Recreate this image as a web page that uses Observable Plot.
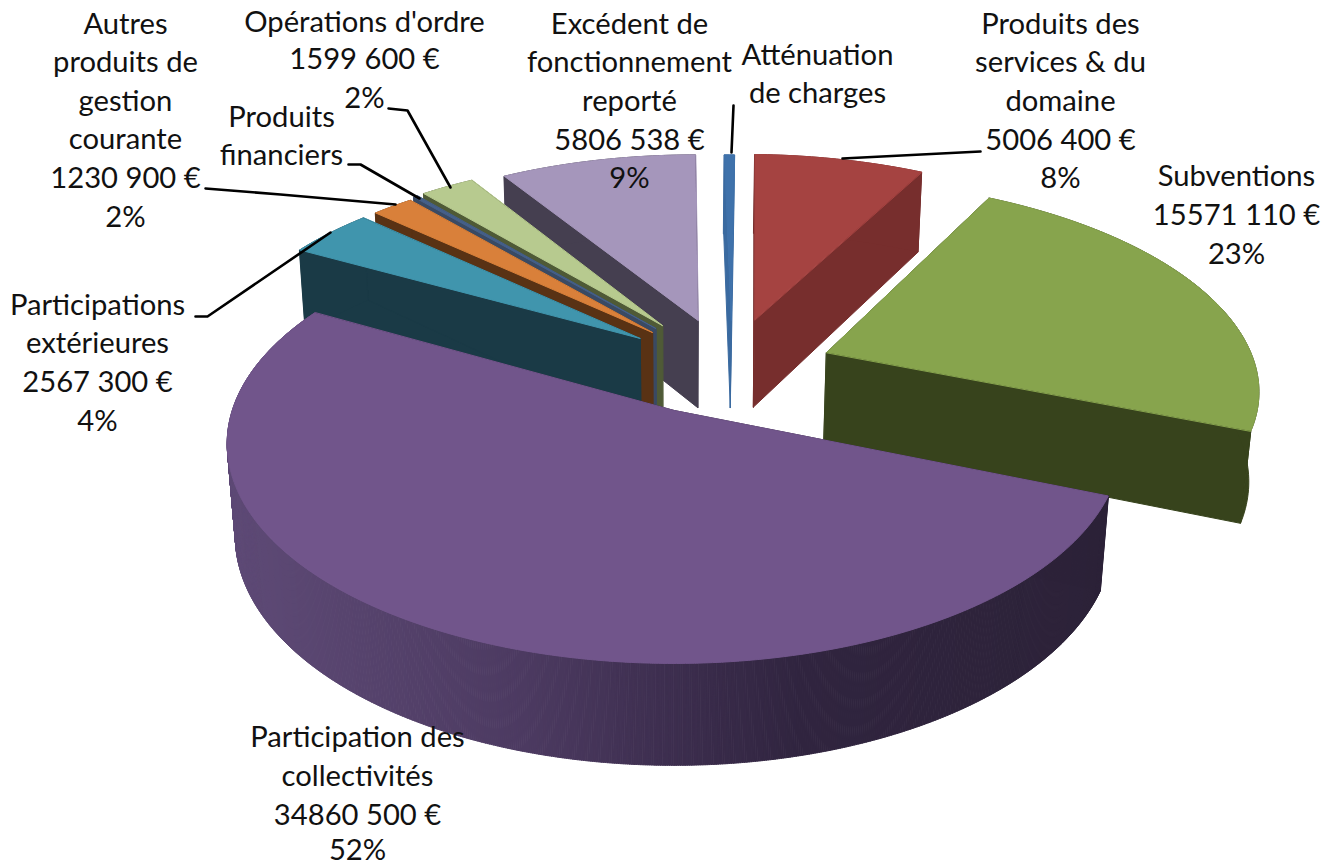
<!DOCTYPE html>
<html><head><meta charset="utf-8">
<script src="https://cdn.jsdelivr.net/npm/d3@7"></script>
<script src="https://cdn.jsdelivr.net/npm/@observablehq/plot@0.6"></script>
<style>html,body{margin:0;padding:0;background:#fff}svg{display:block}</style>
</head><body><div id="chart"></div>
<script>
// ---- data (clockwise from 12 o'clock) ----
const categories = ["Atténuation de charges","Produits des services & du domaine","Subventions","Participation des collectivités","Participations extérieures","Autres produits de gestion courante","Produits financiers","Opérations d'ordre","Excédent de fonctionnement reporté"];
const values = [290000,5006400,15571110,34860500,2567300,1230900,120000,1599600,5806538];

// ---- styling ----
const topColors  = ["#3f72ab","#a54341","#87a44d","#71558b","#4095ad","#d9803a","#45608a","#b7ca8f","#a596bb"];
const wallColors = ["#3a6aa0","#772e2d","#37431c","#2c2238","#1a3a46","#593214","#3a4a63","#4f5a36","#453f50"];
// slice displacement on the pie's ground plane, in pie radii (explosion)
const offsetX = [0.132,0.189,0.354,-0.005,-0.087,-0.058,-0.05,-0.034,0.052];
const offsetY = [-0.447,-0.45,-0.281,0,-0.353,-0.384,-0.405,-0.42,-0.447];
const drawOrder = [8,7,6,5,4,0,1,2,3];

// ---- labels ----
const labelBlocks = [
  {cx:125,  lines:["Autres","produits de","gestion","courante","1230 900 €","2%"], ys:[24,62,101,139,178,217]},
  {cx:364,  lines:["Opérations d'ordre","1599 600 €","2%"], ys:[22,59,98]},
  {cx:281,  lines:["Produits","financiers"], ys:[117,155]},
  {cx:629,  lines:["Excédent de","fonctionnement","reporté","5806 538 €","9%"], ys:[24,62,101,140,178]},
  {cx:817,  lines:["Atténuation","de charges"], ys:[55,93]},
  {cx:1060, lines:["Produits des","services & du","domaine","5006 400 €","8%"], ys:[24,62,101,140,178]},
  {cx:1236, lines:["Subventions","15571 110 €","23%"], ys:[176,215,254]},
  {cx:97,   lines:["Participations","extérieures","2567 300 €","4%"], ys:[305,343,382,421]},
  {cx:357,  lines:["Participation des","collectivités","34860 500 €","52%"], ys:[737,776,815,850]}
];
const leaders = [
  [[388,108],[407,110],[450,187]],
  [[348,164],[360,164],[419,198]],
  [[205,188],[280,194],[395,204]],
  [[195,316],[207,316],[330,232]],
  [[842,158],[980,151]],
  [[733,105],[731,152]]
];

// ---- perspective projection of the tilted pie ----
const cx=676, cy=410, R=442, A=215, K=0.15, D=93, M=0.018;
function project(X,Y,bottom){
  const w = 1 - K*Y + (bottom?M:0);
  return [cx + R*X/w, cy + (A*Y + (bottom?D:0))/w];
}
const total = d3.sum(values);
let cum = 0;
const slices = values.map((v,i)=>{
  const a0 = cum/total*2*Math.PI; cum += v;
  return {i, a0, a1: cum/total*2*Math.PI};
});
function arcPts(s, bottom, from, to){
  const f = from ?? s.a0, t = to ?? s.a1;
  const n = Math.max(2, Math.ceil((t-f)/(Math.PI/180)));
  return d3.range(n+1).map(k=>{
    const a = f+(t-f)*k/n;
    return project(offsetX[s.i]+Math.sin(a), offsetY[s.i]-Math.cos(a), bottom);
  });
}
const rows = []; let pid = 0;
function poly(pts,color){ const id = pid++; pts.forEach(p=>rows.push({x:p[0],y:p[1],id,color})); }
const purpleShade = d3.scaleLinear().domain([230,520,800,1110]).range(["#5e4a76","#4c3a61","#30243f","#2c2238"]).clamp(true);

for (const i of drawOrder){
  const s = slices[i], c = wallColors[i];
  const apT = project(offsetX[i],offsetY[i],false), apB = project(offsetX[i],offsetY[i],true);
  const tA = arcPts(s,false), bA = arcPts(s,true);
  const aT0 = tA[0], aB0 = bA[0], aT1 = tA[tA.length-1], aB1 = bA[bA.length-1];
  poly([apT,aT0,aB0,apB],c);
  poly([apT,aT1,aB1,apB],c);
  if (i===3){
    const n = Math.ceil((s.a1-s.a0)/(Math.PI/720));
    for (let k=0;k<n;k++){
      const f = s.a0+(s.a1-s.a0)*k/n, t = s.a0+(s.a1-s.a0)*(k+1)/n;
      const u = arcPts(s,false,f,t), l = arcPts(s,true,f,t);
      poly([...u,...l.reverse()], purpleShade((u[0][0]+u[u.length-1][0])/2));
    }
  } else {
    poly([...tA,...bA.slice().reverse()],c);
  }
  poly([apT,...tA],topColors[i]);
}

const labelRows = labelBlocks.flatMap(b=>b.lines.map((t,j)=>({t,x:b.cx,y:b.ys[j]})));
const leaderRows = leaders.flatMap((l,id)=>l.map(p=>({x:p[0],y:p[1],id})));

const chart = Plot.plot({
  width:1333,height:866,margin:0,
  x:{domain:[0,1333],range:[0,1333],axis:null},
  y:{domain:[0,866],range:[0,866],axis:null},
  color:{type:"identity"},
  style:{background:"#fff"},
  marks:[
    Plot.line(rows,{x:"x",y:"y",z:"id",fill:"color",stroke:"color",strokeWidth:1,curve:"linear-closed"}),
    Plot.line(leaderRows,{x:"x",y:"y",z:"id",stroke:"#000",strokeWidth:2.6,curve:"linear"}),
    Plot.text(labelRows,{x:"x",y:"y",text:"t",textAnchor:"middle",lineAnchor:"middle",fontFamily:"Lato, Carlito, sans-serif",fontSize:29.2,fill:"#111"})
  ]
});
document.getElementById("chart").appendChild(chart);
</script>
</body></html>
